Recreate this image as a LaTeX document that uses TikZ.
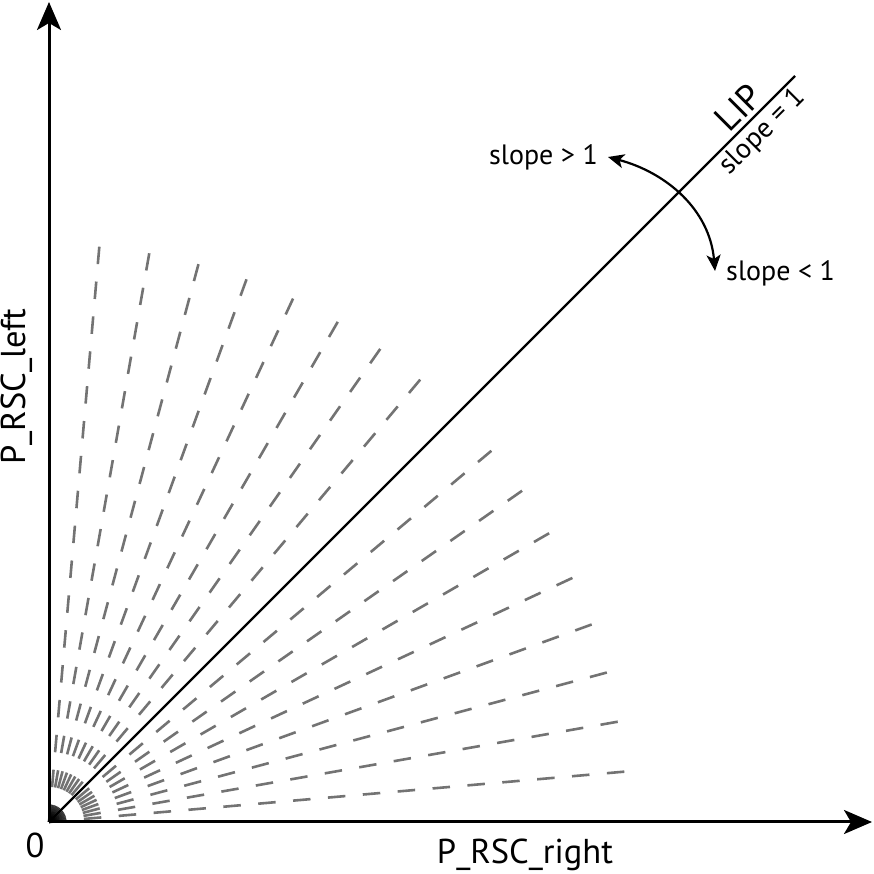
\documentclass[tikz,border=0pt]{standalone}
\usepackage{fontspec}
\setmainfont{PT Sans}
\usetikzlibrary{arrows.meta}
\begin{document}
\begin{tikzpicture}[x=1pt,y=1pt,
  axisline/.style={line width=3pt,-{Stealth[length=28pt,width=24pt,inset=7pt]}},
  rayline/.style={line width=2.6pt,draw=black,draw opacity=0.55,dash pattern=on 17.5pt off 17.5pt},
  lipline/.style={line width=2.4pt},
  turnarrow/.style={line width=2.2pt,{Stealth[length=16pt,width=14pt,inset=4pt]}-{Stealth[length=16pt,width=14pt,inset=4pt]}},
  lbl/.style={inner sep=0pt,font=\fontsize{28}{32}\selectfont},
  axlbl/.style={inner sep=0pt,font=\fontsize{34.5}{38}\selectfont}]
\fill[white] (0,0) rectangle (873,874);
\useasboundingbox (0,0) rectangle (873,874);
\coordinate (O) at (49,52);
\coordinate (xend) at (872,52);
\coordinate (yend) at (49,872);
\coordinate (dend) at (795,798);
% dashed rays
\foreach \a in {5,10,...,40,50,55,...,85}
  \draw[rayline] (O) -- ++(\a:577.5);
% axes
\draw[axisline] (O) -- (xend);
\draw[axisline] (O) -- (yend);
% line of identity
\draw[lipline] (O) -- (dend) coordinate[pos=0.941] (lipmid);
\node[lbl,font=\fontsize{36}{40}\selectfont,rotate=45,anchor=south,yshift=5pt] (lip) at (lipmid) {LIP};
\node[lbl,rotate=45,anchor=north,yshift=-4pt] (slope1) at (lipmid) {slope = 1};
% curved arrow
\node[lbl,anchor=east] (sgt) at (598,717) {slope > 1};
\node[lbl,anchor=west] (slt) at (726,601) {slope < 1};
\coordinate (cs) at (608,717);
\coordinate (ce) at (715,603);
\draw[turnarrow] (cs) to[out=-15,in=95] (ce);
% axis labels
\node[axlbl] (zero) at (35,29) {0};
\node[axlbl] (xl) at (525,19) {P\_RSC\_right};
\node[axlbl,rotate=90] (yl) at (17,487) {P\_RSC\_left};
\end{tikzpicture}
\end{document}
